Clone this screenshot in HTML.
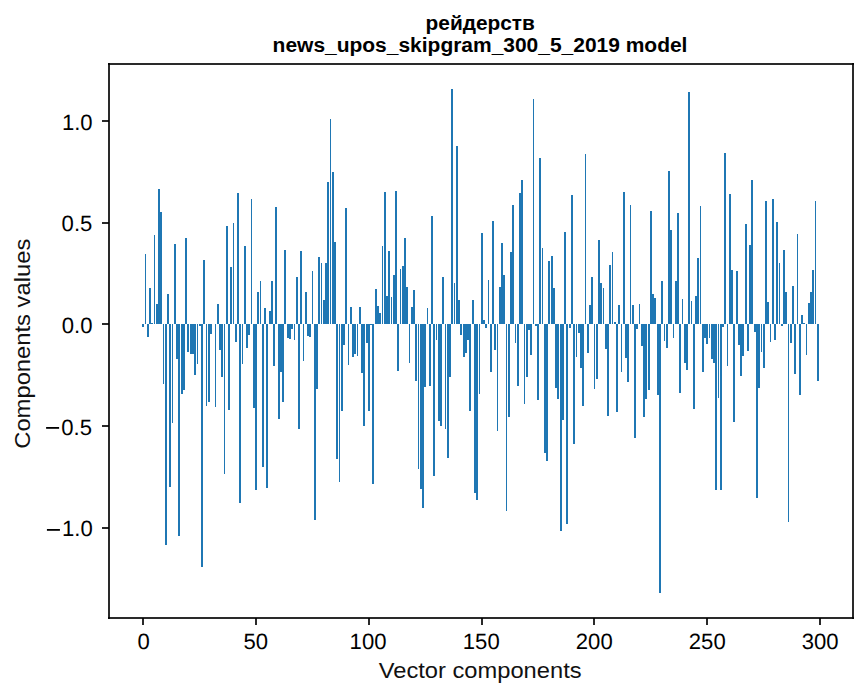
<!DOCTYPE html>
<html><head><meta charset="utf-8"><title>Components values chart</title><style>
html,body{margin:0;padding:0;background:#fff;overflow:hidden;}
svg{display:block;}
text{font-family:"Liberation Sans",sans-serif;font-size:22.1px;fill:#000;}
.t{font-weight:bold;font-size:20.83px;}
.k{text-rendering:geometricPrecision;}
.l{fill:#111;}
</style></head><body>
<svg width="867" height="696" viewBox="0 0 867 696">
<rect x="0" y="0" width="867" height="696" fill="#fff"/>
<g fill="#1f77b4" shape-rendering="crispEdges"><rect x="142" y="324" width="2" height="3"/><rect x="145" y="254" width="1" height="70"/><rect x="147" y="324" width="2" height="13"/><rect x="149" y="288" width="2" height="36"/><rect x="151" y="323" width="2" height="1"/><rect x="154" y="235" width="1" height="89"/><rect x="156" y="304" width="2" height="20"/><rect x="158" y="189" width="2" height="135"/><rect x="160" y="212" width="2" height="112"/><rect x="163" y="324" width="1" height="60"/><rect x="165" y="324" width="2" height="221"/><rect x="167" y="294" width="2" height="30"/><rect x="169" y="324" width="2" height="163"/><rect x="172" y="324" width="1" height="99"/><rect x="174" y="244" width="2" height="80"/><rect x="176" y="324" width="2" height="35"/><rect x="178" y="324" width="2" height="212"/><rect x="181" y="324" width="2" height="70"/><rect x="183" y="324" width="2" height="66"/><rect x="185" y="238" width="2" height="86"/><rect x="187" y="324" width="2" height="28"/><rect x="190" y="324" width="2" height="30"/><rect x="192" y="324" width="2" height="30"/><rect x="194" y="324" width="2" height="51"/><rect x="197" y="324" width="1" height="40"/><rect x="199" y="324" width="2" height="2"/><rect x="201" y="324" width="2" height="243"/><rect x="203" y="260" width="2" height="64"/><rect x="206" y="324" width="1" height="82"/><rect x="208" y="324" width="2" height="78"/><rect x="210" y="324" width="2" height="10"/><rect x="215" y="324" width="1" height="83"/><rect x="217" y="304" width="2" height="20"/><rect x="219" y="324" width="2" height="26"/><rect x="221" y="324" width="2" height="53"/><rect x="224" y="324" width="1" height="150"/><rect x="226" y="226" width="2" height="98"/><rect x="228" y="324" width="2" height="86"/><rect x="230" y="267" width="2" height="57"/><rect x="233" y="223" width="1" height="101"/><rect x="235" y="324" width="2" height="18"/><rect x="237" y="193" width="2" height="131"/><rect x="239" y="324" width="2" height="179"/><rect x="242" y="324" width="1" height="40"/><rect x="244" y="246" width="2" height="78"/><rect x="246" y="324" width="2" height="24"/><rect x="248" y="324" width="2" height="11"/><rect x="251" y="199" width="1" height="125"/><rect x="253" y="324" width="2" height="84"/><rect x="255" y="324" width="2" height="166"/><rect x="257" y="292" width="2" height="32"/><rect x="260" y="281" width="1" height="43"/><rect x="262" y="324" width="2" height="143"/><rect x="264" y="308" width="2" height="16"/><rect x="266" y="324" width="2" height="164"/><rect x="269" y="311" width="2" height="13"/><rect x="271" y="281" width="2" height="43"/><rect x="273" y="324" width="2" height="42"/><rect x="275" y="207" width="2" height="117"/><rect x="278" y="324" width="2" height="95"/><rect x="280" y="324" width="2" height="48"/><rect x="282" y="324" width="2" height="78"/><rect x="284" y="250" width="2" height="74"/><rect x="287" y="324" width="2" height="14"/><rect x="289" y="324" width="2" height="15"/><rect x="291" y="324" width="2" height="5"/><rect x="294" y="324" width="1" height="16"/><rect x="296" y="277" width="2" height="47"/><rect x="298" y="324" width="2" height="105"/><rect x="300" y="251" width="2" height="73"/><rect x="303" y="324" width="1" height="37"/><rect x="305" y="292" width="2" height="32"/><rect x="307" y="324" width="2" height="12"/><rect x="309" y="324" width="2" height="13"/><rect x="312" y="271" width="1" height="53"/><rect x="314" y="324" width="2" height="196"/><rect x="316" y="324" width="2" height="65"/><rect x="318" y="257" width="2" height="67"/><rect x="321" y="263" width="1" height="61"/><rect x="323" y="300" width="2" height="24"/><rect x="325" y="263" width="2" height="61"/><rect x="327" y="182" width="2" height="142"/><rect x="330" y="119" width="1" height="205"/><rect x="332" y="172" width="2" height="152"/><rect x="334" y="242" width="2" height="82"/><rect x="336" y="324" width="2" height="135"/><rect x="339" y="324" width="1" height="158"/><rect x="341" y="324" width="2" height="87"/><rect x="343" y="324" width="2" height="21"/><rect x="345" y="208" width="2" height="116"/><rect x="348" y="324" width="1" height="41"/><rect x="350" y="307" width="2" height="17"/><rect x="352" y="324" width="2" height="33"/><rect x="354" y="324" width="2" height="30"/><rect x="357" y="324" width="1" height="32"/><rect x="359" y="307" width="2" height="17"/><rect x="361" y="324" width="2" height="49"/><rect x="363" y="324" width="2" height="102"/><rect x="366" y="324" width="2" height="19"/><rect x="368" y="324" width="2" height="87"/><rect x="370" y="324" width="2" height="1"/><rect x="372" y="324" width="2" height="160"/><rect x="375" y="289" width="2" height="35"/><rect x="377" y="306" width="2" height="18"/><rect x="379" y="313" width="2" height="11"/><rect x="382" y="246" width="1" height="78"/><rect x="384" y="192" width="2" height="132"/><rect x="386" y="296" width="2" height="28"/><rect x="388" y="251" width="2" height="73"/><rect x="391" y="297" width="1" height="27"/><rect x="393" y="275" width="2" height="49"/><rect x="395" y="191" width="2" height="133"/><rect x="397" y="324" width="2" height="47"/><rect x="400" y="269" width="1" height="55"/><rect x="402" y="266" width="2" height="58"/><rect x="404" y="238" width="2" height="86"/><rect x="406" y="287" width="2" height="37"/><rect x="409" y="324" width="1" height="39"/><rect x="411" y="307" width="2" height="17"/><rect x="413" y="290" width="2" height="34"/><rect x="415" y="324" width="2" height="57"/><rect x="418" y="324" width="1" height="145"/><rect x="420" y="324" width="2" height="165"/><rect x="422" y="324" width="2" height="184"/><rect x="424" y="324" width="2" height="63"/><rect x="427" y="308" width="1" height="16"/><rect x="429" y="324" width="2" height="62"/><rect x="431" y="216" width="2" height="108"/><rect x="433" y="324" width="2" height="152"/><rect x="436" y="324" width="1" height="16"/><rect x="438" y="324" width="2" height="97"/><rect x="440" y="324" width="2" height="102"/><rect x="442" y="277" width="2" height="47"/><rect x="445" y="324" width="1" height="105"/><rect x="447" y="324" width="2" height="134"/><rect x="449" y="324" width="2" height="53"/><rect x="451" y="89" width="2" height="235"/><rect x="454" y="283" width="1" height="41"/><rect x="456" y="146" width="2" height="178"/><rect x="458" y="300" width="2" height="24"/><rect x="460" y="324" width="2" height="11"/><rect x="463" y="324" width="2" height="33"/><rect x="465" y="324" width="2" height="29"/><rect x="467" y="324" width="2" height="16"/><rect x="469" y="324" width="2" height="87"/><rect x="472" y="300" width="2" height="24"/><rect x="474" y="324" width="2" height="169"/><rect x="476" y="324" width="2" height="176"/><rect x="479" y="324" width="1" height="70"/><rect x="481" y="233" width="2" height="91"/><rect x="483" y="320" width="2" height="4"/><rect x="485" y="324" width="2" height="4"/><rect x="488" y="280" width="1" height="44"/><rect x="490" y="324" width="2" height="48"/><rect x="492" y="221" width="2" height="103"/><rect x="494" y="324" width="2" height="26"/><rect x="497" y="324" width="1" height="107"/><rect x="499" y="287" width="2" height="37"/><rect x="501" y="243" width="2" height="81"/><rect x="503" y="275" width="2" height="49"/><rect x="506" y="324" width="1" height="187"/><rect x="508" y="324" width="2" height="93"/><rect x="510" y="252" width="2" height="72"/><rect x="512" y="205" width="2" height="119"/><rect x="515" y="324" width="1" height="19"/><rect x="517" y="324" width="2" height="62"/><rect x="519" y="193" width="2" height="131"/><rect x="521" y="180" width="2" height="144"/><rect x="524" y="324" width="1" height="80"/><rect x="526" y="324" width="2" height="53"/><rect x="528" y="324" width="2" height="6"/><rect x="530" y="324" width="2" height="31"/><rect x="533" y="99" width="1" height="225"/><rect x="535" y="324" width="2" height="2"/><rect x="537" y="324" width="2" height="76"/><rect x="539" y="158" width="2" height="166"/><rect x="542" y="248" width="1" height="76"/><rect x="544" y="324" width="2" height="129"/><rect x="546" y="324" width="2" height="137"/><rect x="548" y="261" width="2" height="63"/><rect x="551" y="256" width="2" height="68"/><rect x="553" y="288" width="2" height="36"/><rect x="555" y="324" width="2" height="64"/><rect x="557" y="324" width="2" height="75"/><rect x="560" y="324" width="2" height="207"/><rect x="562" y="324" width="2" height="96"/><rect x="564" y="232" width="2" height="92"/><rect x="566" y="324" width="2" height="200"/><rect x="569" y="324" width="2" height="4"/><rect x="571" y="195" width="2" height="129"/><rect x="573" y="324" width="2" height="120"/><rect x="576" y="324" width="1" height="33"/><rect x="578" y="324" width="2" height="9"/><rect x="580" y="324" width="2" height="44"/><rect x="582" y="324" width="2" height="82"/><rect x="585" y="154" width="1" height="170"/><rect x="587" y="324" width="2" height="29"/><rect x="589" y="305" width="2" height="19"/><rect x="591" y="277" width="2" height="47"/><rect x="594" y="324" width="1" height="65"/><rect x="596" y="324" width="2" height="55"/><rect x="598" y="240" width="2" height="84"/><rect x="600" y="283" width="2" height="41"/><rect x="603" y="288" width="1" height="36"/><rect x="605" y="324" width="2" height="25"/><rect x="607" y="324" width="2" height="92"/><rect x="609" y="265" width="2" height="59"/><rect x="612" y="252" width="1" height="72"/><rect x="614" y="322" width="2" height="2"/><rect x="616" y="324" width="2" height="88"/><rect x="618" y="305" width="2" height="19"/><rect x="621" y="324" width="1" height="48"/><rect x="623" y="192" width="2" height="132"/><rect x="625" y="324" width="2" height="34"/><rect x="627" y="324" width="2" height="58"/><rect x="630" y="205" width="1" height="119"/><rect x="632" y="305" width="2" height="19"/><rect x="634" y="324" width="2" height="114"/><rect x="636" y="324" width="2" height="5"/><rect x="639" y="304" width="1" height="20"/><rect x="641" y="324" width="2" height="22"/><rect x="643" y="324" width="2" height="93"/><rect x="645" y="324" width="2" height="75"/><rect x="648" y="324" width="2" height="66"/><rect x="650" y="211" width="2" height="113"/><rect x="652" y="294" width="2" height="30"/><rect x="654" y="298" width="2" height="26"/><rect x="657" y="324" width="2" height="71"/><rect x="659" y="324" width="2" height="269"/><rect x="661" y="281" width="2" height="43"/><rect x="664" y="324" width="1" height="17"/><rect x="666" y="324" width="2" height="24"/><rect x="668" y="171" width="2" height="153"/><rect x="670" y="230" width="2" height="94"/><rect x="673" y="324" width="1" height="14"/><rect x="675" y="281" width="2" height="43"/><rect x="677" y="213" width="2" height="111"/><rect x="679" y="324" width="2" height="69"/><rect x="682" y="299" width="1" height="25"/><rect x="684" y="324" width="2" height="39"/><rect x="686" y="324" width="2" height="46"/><rect x="688" y="92" width="2" height="232"/><rect x="691" y="301" width="1" height="23"/><rect x="693" y="324" width="2" height="85"/><rect x="695" y="296" width="2" height="28"/><rect x="697" y="258" width="2" height="66"/><rect x="700" y="206" width="1" height="118"/><rect x="702" y="324" width="2" height="48"/><rect x="704" y="324" width="2" height="14"/><rect x="706" y="324" width="2" height="20"/><rect x="709" y="324" width="1" height="14"/><rect x="711" y="324" width="2" height="35"/><rect x="713" y="324" width="2" height="39"/><rect x="715" y="324" width="2" height="166"/><rect x="718" y="324" width="1" height="74"/><rect x="720" y="324" width="2" height="166"/><rect x="722" y="324" width="2" height="3"/><rect x="724" y="153" width="2" height="171"/><rect x="727" y="324" width="1" height="42"/><rect x="729" y="194" width="2" height="130"/><rect x="731" y="270" width="2" height="54"/><rect x="733" y="324" width="2" height="98"/><rect x="736" y="271" width="2" height="53"/><rect x="738" y="324" width="2" height="21"/><rect x="740" y="324" width="2" height="52"/><rect x="742" y="324" width="2" height="32"/><rect x="745" y="224" width="2" height="100"/><rect x="747" y="324" width="2" height="27"/><rect x="749" y="245" width="2" height="79"/><rect x="751" y="180" width="2" height="144"/><rect x="754" y="324" width="2" height="8"/><rect x="756" y="324" width="2" height="174"/><rect x="758" y="324" width="2" height="64"/><rect x="761" y="324" width="1" height="28"/><rect x="763" y="324" width="2" height="44"/><rect x="765" y="201" width="2" height="123"/><rect x="767" y="302" width="2" height="22"/><rect x="770" y="324" width="1" height="18"/><rect x="772" y="199" width="2" height="125"/><rect x="774" y="324" width="2" height="16"/><rect x="776" y="222" width="2" height="102"/><rect x="779" y="263" width="1" height="61"/><rect x="781" y="324" width="2" height="2"/><rect x="783" y="250" width="2" height="74"/><rect x="785" y="292" width="2" height="32"/><rect x="788" y="324" width="1" height="198"/><rect x="790" y="324" width="2" height="19"/><rect x="792" y="286" width="2" height="38"/><rect x="794" y="324" width="2" height="50"/><rect x="797" y="234" width="1" height="90"/><rect x="799" y="324" width="2" height="71"/><rect x="801" y="315" width="2" height="9"/><rect x="803" y="323" width="2" height="1"/><rect x="806" y="324" width="1" height="31"/><rect x="808" y="303" width="2" height="21"/><rect x="810" y="292" width="2" height="32"/><rect x="812" y="270" width="2" height="54"/><rect x="815" y="201" width="1" height="123"/><rect x="817" y="324" width="2" height="57"/></g>
<g fill="#000" fill-opacity="0.835" shape-rendering="crispEdges"><rect x="108" y="63" width="2" height="556"/><rect x="852" y="63" width="2" height="556"/><rect x="108" y="63" width="746" height="2"/><rect x="108" y="617" width="746" height="2"/><rect x="102" y="120" width="7" height="2"/><rect x="102" y="222" width="7" height="2"/><rect x="102" y="323" width="7" height="2"/><rect x="102" y="425" width="7" height="2"/><rect x="102" y="527" width="7" height="2"/><rect x="142" y="618" width="2" height="7"/><rect x="255" y="618" width="2" height="7"/><rect x="368" y="618" width="2" height="7"/><rect x="481" y="618" width="2" height="7"/><rect x="593" y="618" width="2" height="7"/><rect x="706" y="618" width="2" height="7"/><rect x="819" y="618" width="2" height="7"/></g>
<g fill="#000"><text class="k" transform="translate(92.60,130.47) scale(1.0,1)" text-anchor="end">1.0</text><text class="k" transform="translate(92.31,230.77) scale(1.0,1)" text-anchor="end">0.5</text><text class="k" transform="translate(92.51,332.65) scale(1.0,1)" text-anchor="end">0.0</text><text class="k" transform="translate(91.95,434.68) scale(1.0,1)" text-anchor="end">0.5</text><rect x="46.10" y="427.00" width="13.0" height="1.8"/><text class="k" transform="translate(92.77,536.43) scale(1.0,1)" text-anchor="end">1.0</text><rect x="46.92" y="529.00" width="13.0" height="1.8"/><text class="k" transform="translate(143.62,649.30) scale(1.0,1)" text-anchor="middle">0</text><text class="k" transform="translate(255.82,649.30) scale(1.0,1)" text-anchor="middle">50</text><text class="k" transform="translate(368.05,649.30) scale(1.0,1)" text-anchor="middle">100</text><text class="k" transform="translate(481.25,649.30) scale(1.0,1)" text-anchor="middle">150</text><text class="k" transform="translate(594.25,649.30) scale(1.0,1)" text-anchor="middle">200</text><text class="k" transform="translate(707.25,649.30) scale(1.0,1)" text-anchor="middle">250</text><text class="k" transform="translate(820.11,649.30) scale(1.0,1)" text-anchor="middle">300</text>
<text class="l" transform="translate(480.15,677.60) scale(1.073,1)" text-anchor="middle">Vector components</text>
<text class="l" transform="translate(29.84,343.75) rotate(-90) scale(1.076,1)" text-anchor="middle">Components values</text>
<text class="t" transform="translate(480.18,29.70) scale(1.0,1)" text-anchor="middle">рейдерств</text>
<text class="t" transform="translate(480.03,51.70) scale(1.007,1)" text-anchor="middle">news_upos_skipgram_300_5_2019 model</text>
</g>
</svg>
</body></html>
